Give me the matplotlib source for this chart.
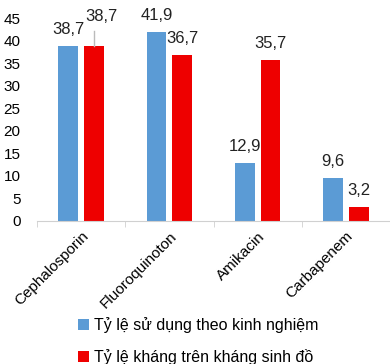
import numpy as np
import matplotlib
matplotlib.use("Agg")
from matplotlib import pyplot as plt

categories = ["Cephalosporin", "Fluoroquinoton", "Amikacin", "Carbapenem"]
su_dung = [38.7, 41.9, 12.9, 9.6]
khang = [38.7, 36.7, 35.7, 3.2]
series_names = ["Tỷ lệ sử dụng theo kinh nghiệm", "Tỷ lệ kháng trên kháng sinh đồ"]
y_ticks = [0, 5, 10, 15, 20, 25, 30, 35, 40, 45]

blue = "#5B9BD5"
red = "#EE0000"


def fmt(v):
    return f"{v:.1f}".replace(".", ",")


def main():
    plt.rcParams["font.family"] = ["Liberation Sans", "DejaVu Sans"]
    fig = plt.figure(figsize=(3.9, 3.64), dpi=100)
    ax = fig.add_axes([0.095, 0.393, 0.905, 0.607])

    x = np.arange(len(categories))
    w = 0.224
    off = 0.034 + w / 2
    b1 = ax.bar(x - off, su_dung, w, color=blue, label=series_names[0])
    b2 = ax.bar(x + off, khang, w, color=red, label=series_names[1])

    # nhãn dữ liệu
    for xi, v in zip(x - off, su_dung):
        ax.text(xi, v + 2.0, fmt(v), ha="center", va="bottom", fontsize=12, color="#222222")
    for i, (xi, v) in enumerate(zip(x + off, khang)):
        if i == 0:
            # nhãn bị dời lên, có đường dẫn
            ax.plot([xi, xi], [v, v + 3.4], color="#BBBBBB", lw=1)
            ax.text(xi + 0.08, v + 5.0, fmt(v), ha="center", va="bottom", fontsize=12, color="#222222")
        else:
            ax.text(xi, v + 2.0, fmt(v), ha="center", va="bottom", fontsize=12, color="#222222")

    ax.set_ylim(0, 49)
    ax.set_xlim(-0.5, 3.455)
    ax.set_yticks(y_ticks)
    ax.tick_params(axis="y", length=0, labelsize=11, pad=12)
    ax.set_xticks(x)
    ax.set_xticklabels(categories, rotation=45, ha="right", rotation_mode="anchor", fontsize=11)
    ax.tick_params(axis="x", length=0, pad=6)
    ax.set_xticks(np.arange(len(categories) + 1) - 0.5, minor=True)
    ax.tick_params(axis="x", which="minor", length=4, color="#D0D0D0", direction="out")
    for s in ["top", "right", "left"]:
        ax.spines[s].set_visible(False)
    ax.spines["bottom"].set_color("#D0D0D0")

    fig.legend(handles=[b1, b2], loc="upper left", bbox_to_anchor=(0.18, 0.15),
               frameon=False, fontsize=11.5, handlelength=0.7, handleheight=0.7,
               handletextpad=0.3, labelspacing=1.0, borderpad=0)

    fig.savefig("out.png", dpi=100)


if __name__ == "__main__":
    main()
